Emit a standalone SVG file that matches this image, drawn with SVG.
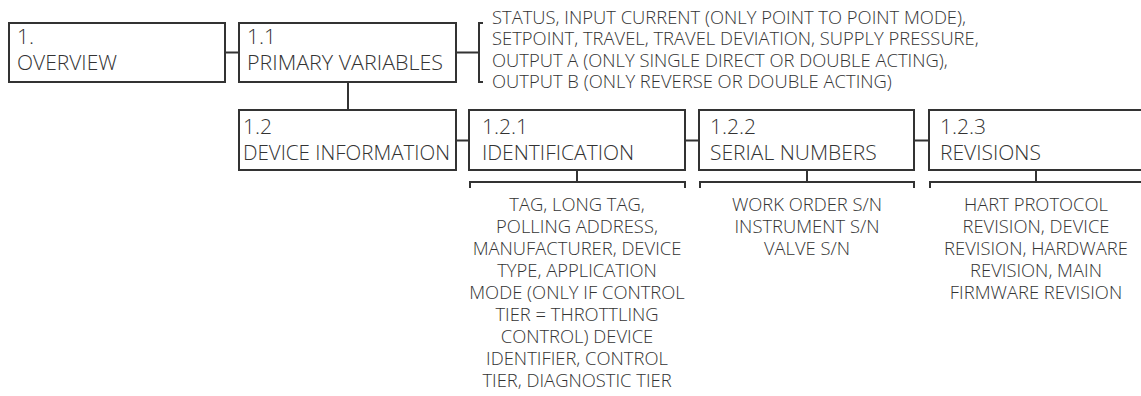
<svg xmlns="http://www.w3.org/2000/svg" width="1141" height="396" viewBox="0 0 1141 396">
<style>
.box{fill:#fff;stroke:#333;stroke-width:2}
.ln{fill:none;stroke:#333;stroke-width:2}
.t{font-family:"Open Sans","Liberation Sans",sans-serif;font-weight:300;font-size:21px;fill:#333}
.s{font-family:"Open Sans","Liberation Sans",sans-serif;font-weight:300;font-size:18.4px;fill:#333}
.c{text-anchor:middle}
</style>
<rect width="1141" height="396" fill="#fff"/>
<g id="connectors">
<path class="ln" d="M225 52.5H239"/>
<path class="ln" d="M456 52.5H479M483 23H479V82H483"/>
<path class="ln" d="M348 82V110"/>
<path class="ln" d="M456 140.5H469M685 140.5H699M914 140.5H929"/>
<path class="ln" d="M577 170V182M470 188V182H685V188"/>
<path class="ln" d="M807 170V182M700 188V182H914V188"/>
<path class="ln" d="M1036 170V182M930 188V182H1142"/>
</g>
<g id="n1"><rect class="box" x="9" y="23" width="216" height="59"/><text class="t" x="17" y="44">1.</text><text class="t" x="17" y="70">OVERVIEW</text></g>
<g id="n1_1"><rect class="box" x="239" y="23" width="217" height="59"/><text class="t" x="247" y="44">1.1</text><text class="t" x="247" y="70" textLength="196" lengthAdjust="spacingAndGlyphs">PRIMARY VARIABLES</text></g>
<g id="n1_1_list"><text class="s" x="492"><tspan x="492" y="24">STATUS, INPUT CURRENT (ONLY POINT TO POINT MODE),</tspan><tspan x="492" y="45.3">SETPOINT, TRAVEL, TRAVEL DEVIATION, SUPPLY PRESSURE,</tspan><tspan x="492" y="66.7">OUTPUT A (ONLY SINGLE DIRECT OR DOUBLE ACTING),</tspan><tspan x="492" y="88">OUTPUT B (ONLY REVERSE OR DOUBLE ACTING)</tspan></text></g>
<g id="n1_2"><rect class="box" x="239" y="110" width="217" height="60"/><text class="t" x="243" y="134">1.2</text><text class="t" x="243" y="160" textLength="207" lengthAdjust="spacingAndGlyphs">DEVICE INFORMATION</text></g>
<g id="n1_2_1"><rect class="box" x="469" y="110" width="216" height="60"/><text class="t" x="482" y="134">1.2.1</text><text class="t" x="482" y="160">IDENTIFICATION</text></g>
<g id="n1_2_2"><rect class="box" x="699" y="110" width="215" height="60"/><text class="t" x="710" y="134">1.2.2</text><text class="t" x="710" y="160">SERIAL NUMBERS</text></g>
<g id="n1_2_3"><rect class="box" x="929" y="110" width="220" height="60"/><text class="t" x="940" y="134">1.2.3</text><text class="t" x="940" y="160">REVISIONS</text></g>
<g id="n1_2_1_list"><text class="s c"><tspan x="577" y="211">TAG, LONG TAG,</tspan><tspan x="577" y="233">POLLING ADDRESS,</tspan><tspan x="577" y="255">MANUFACTURER, DEVICE</tspan><tspan x="577" y="277">TYPE, APPLICATION</tspan><tspan x="577" y="299">MODE (ONLY IF CONTROL</tspan><tspan x="577" y="321">TIER = THROTTLING</tspan><tspan x="577" y="343">CONTROL) DEVICE</tspan><tspan x="577" y="365">IDENTIFIER, CONTROL</tspan><tspan x="577" y="387">TIER, DIAGNOSTIC TIER</tspan></text></g>
<g id="n1_2_2_list"><text class="s c"><tspan x="807" y="211">WORK ORDER S/N</tspan><tspan x="807" y="233">INSTRUMENT S/N</tspan><tspan x="807" y="255">VALVE S/N</tspan></text></g>
<g id="n1_2_3_list"><text class="s c"><tspan x="1036" y="211">HART PROTOCOL</tspan><tspan x="1036" y="233">REVISION, DEVICE</tspan><tspan x="1036" y="255">REVISION, HARDWARE</tspan><tspan x="1036" y="277">REVISION, MAIN</tspan><tspan x="1036" y="299">FIRMWARE REVISION</tspan></text></g>
</svg>
